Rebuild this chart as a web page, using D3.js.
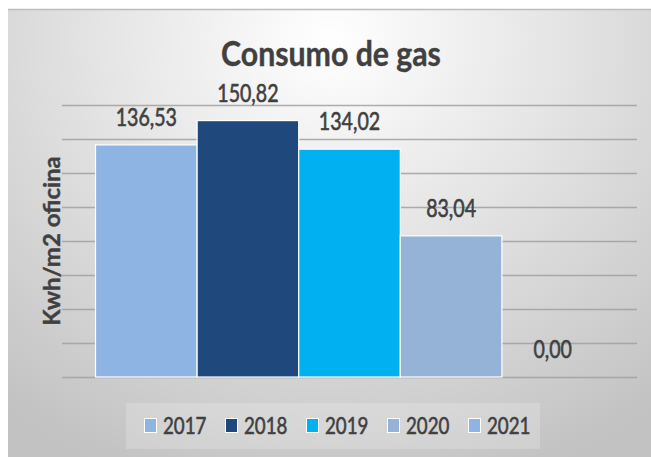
<!DOCTYPE html>
<html><head><meta charset="utf-8">
<script src="https://cdn.jsdelivr.net/npm/d3@7"></script>
<style>body{margin:0;background:#fff}svg{display:block}text{font-family:Lato,"Open Sans",sans-serif}</style>
</head><body><svg id="c" width="651" height="457"></svg>
<script>
const chartTitle = "Consumo de gas";
const yAxisTitle = "Kwh/m2 oficina";
const years = ["2017", "2018", "2019", "2020", "2021"];
const values = [136.53, 150.82, 134.02, 83.04, 0.00];
const colors = ["#8EB4E3", "#1F497D", "#00B0F0", "#95B3D7", "#8EB4E3"];
const yTicks = [0, 20, 40, 60, 80, 100, 120, 140, 160];

const svg = d3.select("#c");
const W = 651, H = 457;
const plot = {left: 62, right: 637, top: 105, bottom: 377};
const textColor = "#404040";
const fmt = d3.formatLocale({decimal: ",", thousands: ".", grouping: [3], currency: ["", ""]}).format(".2f");

// background
const defs = svg.append("defs");
const rg = defs.append("radialGradient").attr("id", "bg")
  .attr("gradientUnits", "userSpaceOnUse").attr("cx", 330).attr("cy", 40).attr("r", 520)
  .attr("gradientTransform", "translate(330,40) scale(1,0.9) translate(-330,-40)");
rg.append("stop").attr("offset", 0).attr("stop-color", "#ffffff");
rg.append("stop").attr("offset", 0.45).attr("stop-color", "#e4e4e4");
rg.append("stop").attr("offset", 1).attr("stop-color", "#c2c2c2");
svg.append("rect").attr("x", 8).attr("y", 9).attr("width", W - 8).attr("height", H - 9).attr("fill", "url(#bg)");
svg.append("line").attr("x1", 8).attr("x2", W).attr("y1", 9.5).attr("y2", 9.5).attr("stroke", "#bdbdbd").attr("stroke-width", 1.5);

// scales
const x = d3.scaleBand().domain(years).range([plot.left, plot.right]).paddingInner(0).paddingOuter(0.33);
const y = d3.scaleLinear().domain([0, 160]).range([plot.bottom, plot.top]);

// gridlines via axis
const grid = svg.append("g").attr("transform", `translate(${plot.left},0)`)
  .call(d3.axisLeft(y).tickValues(yTicks).tickSize(-(plot.right - plot.left)).tickFormat(""));
grid.select(".domain").remove();
grid.selectAll(".tick line").attr("stroke", "#a0a0a0").attr("stroke-width", 1.5).attr("stroke-opacity", 0.85);

// bars
svg.append("g").selectAll("rect").data(values).join("rect")
  .attr("x", (d, i) => x(years[i]))
  .attr("y", d => y(d))
  .attr("width", x.bandwidth())
  .attr("height", d => y(0) - y(d))
  .attr("fill", (d, i) => colors[i])
  .attr("stroke", "#ffffff").attr("stroke-width", 1.2);

// helper for compressed text
function txt(g, str, tx, ty, size, sx, opts = {}) {
  return g.append("text")
    .attr("transform", `translate(${tx},${ty})${opts.rotate ? ` rotate(${opts.rotate})` : ""} scale(${sx},1)`)
    .attr("text-anchor", opts.anchor || "middle")
    .attr("font-size", size)
    .attr("font-weight", opts.weight || 400)
    .attr("fill", textColor)
    .attr("stroke", textColor)
    .attr("stroke-width", opts.thick || 0.6)
    .text(str);
}

// value labels
const lab = svg.append("g");
values.forEach((v, i) => {
  txt(lab, fmt(v), x(years[i]) + x.bandwidth() / 2, y(v) - 19, 24.5, 0.8);
});

// title
txt(svg, chartTitle, 331, 66, 34, 0.89, {weight: 700, thick: 0.4});

// y axis title
txt(svg, yAxisTitle, 60, (plot.top + plot.bottom) / 2, 23.5, 1.02, {rotate: -90, weight: 700, thick: 0.4});

// legend
const lg = svg.append("g");
lg.append("rect").attr("x", 126).attr("y", 403).attr("width", 414).attr("height", 46)
  .attr("fill", "#ffffff").attr("fill-opacity", 0.2);
const step = 81;
years.forEach((yr, i) => {
  const lx = 144 + i * step;
  lg.append("rect").attr("x", lx + 0.5).attr("y", 418.5).attr("width", 12).attr("height", 14)
    .attr("fill", colors[i]).attr("stroke", "#ffffff").attr("stroke-width", 1);
  txt(lg, yr, lx + 19, 434, 24, 0.78, {anchor: "start"});
});
</script></body></html>
